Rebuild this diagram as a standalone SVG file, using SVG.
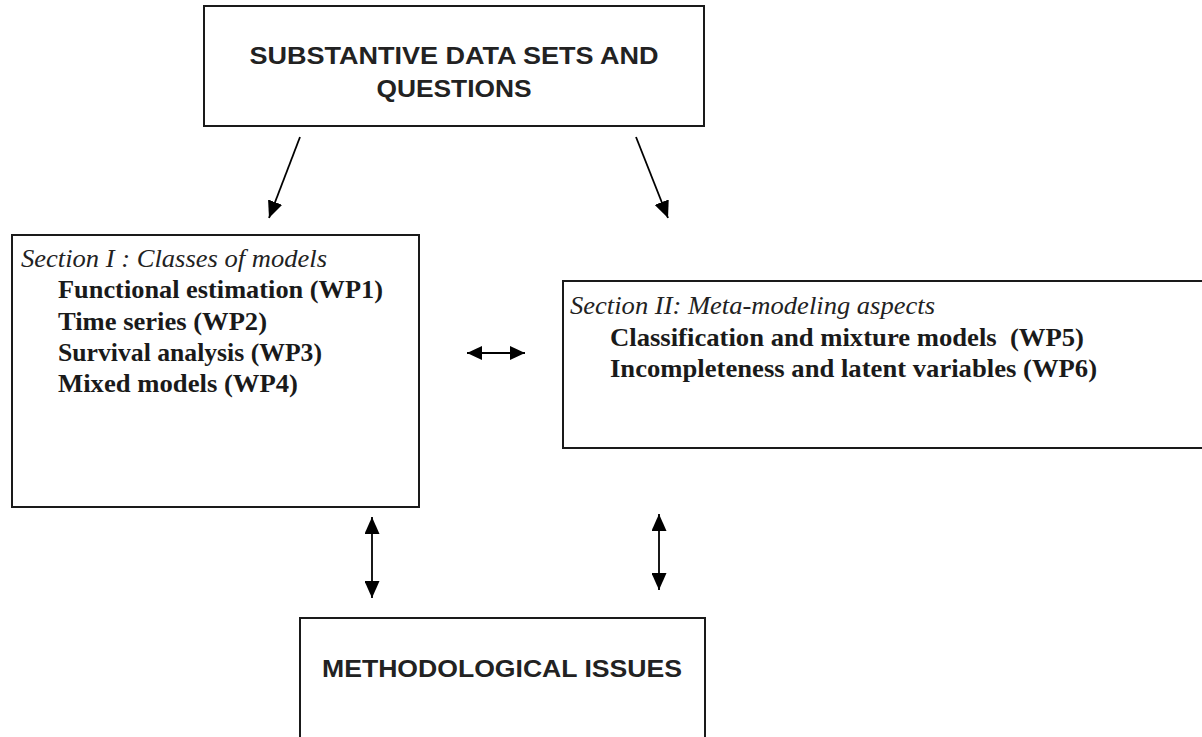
<svg xmlns="http://www.w3.org/2000/svg" width="1202" height="737" viewBox="0 0 1202 737">
<style>
  .box { fill: #ffffff; stroke: #1a1a1a; stroke-width: 2; }
  .head { font-family: "Liberation Sans", Arial, sans-serif; font-weight: bold; font-size: 24px; fill: #222; }
  .sec { font-family: "Liberation Serif", "Times New Roman", serif; font-style: italic; font-size: 25px; fill: #222; }
  .item { font-family: "Liberation Serif", "Times New Roman", serif; font-weight: bold; font-size: 25px; fill: #1a1a1a; }
  .conn { stroke: #000; stroke-width: 1.8; fill: none; }
</style>
<defs>
  <marker id="ah" viewBox="0 0 17 15" refX="17" refY="7.5" markerUnits="userSpaceOnUse" markerWidth="17" markerHeight="15" orient="auto-start-reverse">
    <path d="M0,0 L17,7.5 L0,15 z" fill="#000"/>
  </marker>
  <marker id="ahs" viewBox="0 0 15 14" refX="15" refY="7" markerUnits="userSpaceOnUse" markerWidth="15" markerHeight="14" orient="auto-start-reverse">
    <path d="M0,0 L15,7 L0,14 z" fill="#000"/>
  </marker>
</defs>
<rect width="1202" height="737" fill="#ffffff"/>

<g id="node-substantive">
  <rect class="box" x="204" y="6" width="500" height="120"/>
  <text class="head" x="454" y="64" text-anchor="middle" textLength="409" lengthAdjust="spacingAndGlyphs">SUBSTANTIVE DATA SETS AND</text>
  <text class="head" x="454" y="97" text-anchor="middle" textLength="155" lengthAdjust="spacingAndGlyphs">QUESTIONS</text>
</g>

<g id="node-section1">
  <rect class="box" x="12" y="235" width="407" height="272"/>
  <text class="sec" x="21" y="267" textLength="306" lengthAdjust="spacingAndGlyphs">Section I : Classes of models</text>
  <text class="item" x="58" y="298" textLength="325" lengthAdjust="spacingAndGlyphs">Functional estimation (WP1)</text>
  <text class="item" x="58" y="330" textLength="209" lengthAdjust="spacingAndGlyphs">Time series (WP2)</text>
  <text class="item" x="58" y="361" textLength="264" lengthAdjust="spacingAndGlyphs">Survival analysis (WP3)</text>
  <text class="item" x="58" y="392" textLength="240" lengthAdjust="spacingAndGlyphs">Mixed models (WP4)</text>
</g>

<g id="node-section2">
  <rect class="box" x="563" y="281" width="642" height="167"/>
  <text class="sec" x="570" y="314" textLength="365" lengthAdjust="spacingAndGlyphs">Section II: Meta-modeling aspects</text>
  <text class="item" x="610" y="346" textLength="474" lengthAdjust="spacingAndGlyphs" xml:space="preserve">Classification and mixture models  (WP5)</text>
  <text class="item" x="610" y="377" textLength="487" lengthAdjust="spacingAndGlyphs">Incompleteness and latent variables (WP6)</text>
</g>

<g id="node-methodological">
  <rect class="box" x="300" y="618" width="405" height="130"/>
  <text class="head" x="502" y="677" text-anchor="middle" textLength="360" lengthAdjust="spacingAndGlyphs">METHODOLOGICAL ISSUES</text>
</g>

<g id="connectors">
  <line class="conn" x1="300" y1="137" x2="269" y2="218" marker-end="url(#ah)"/>
  <line class="conn" x1="636" y1="137" x2="668" y2="218" marker-end="url(#ah)"/>
  <line class="conn" x1="467" y1="353" x2="525" y2="353" marker-start="url(#ahs)" marker-end="url(#ahs)"/>
  <line class="conn" x1="372" y1="517" x2="372" y2="598" marker-start="url(#ah)" marker-end="url(#ah)"/>
  <line class="conn" x1="659" y1="514" x2="659" y2="590" marker-start="url(#ah)" marker-end="url(#ah)"/>
</g>
</svg>
